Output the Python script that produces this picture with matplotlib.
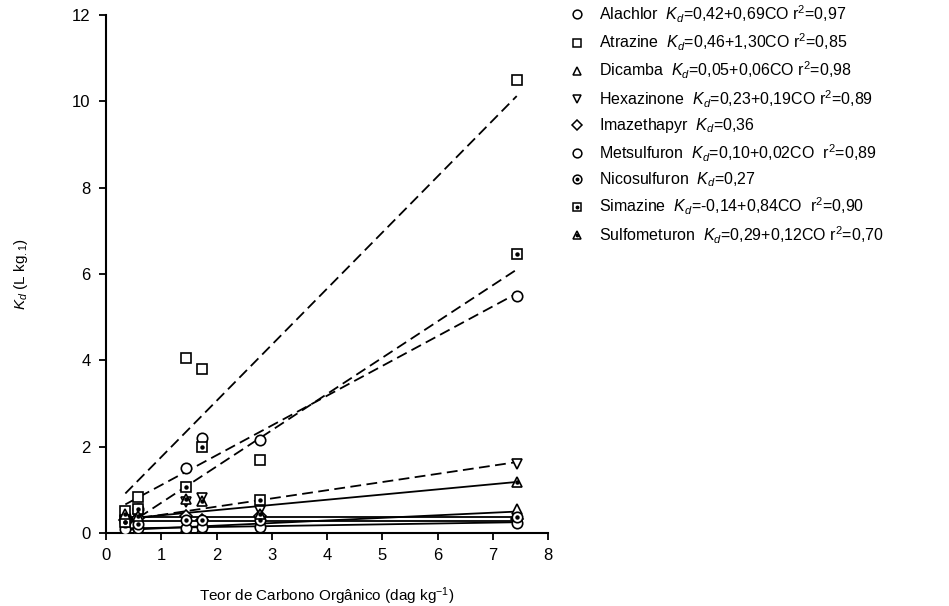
import matplotlib
matplotlib.use("Agg")
import matplotlib.pyplot as plt
from matplotlib.legend_handler import HandlerTuple
import numpy as np

plt.rcParams['font.family'] = ['Liberation Sans', 'DejaVu Sans']
plt.rcParams['mathtext.fontset'] = 'custom'
plt.rcParams['mathtext.rm'] = 'Liberation Sans'
plt.rcParams['mathtext.it'] = 'Liberation Sans:italic'

# organic carbon of the soils (dag/kg)
co = [0.35, 0.57, 1.45, 1.74, 2.78, 7.43]

names = ["Alachlor", "Atrazine", "Dicamba", "Hexazinone", "Imazethapyr",
         "Metsulfuron", "Nicosulfuron", "Simazine", "Sulfometuron"]

# Kd values
alachlor = [0.40, 0.55, 1.50, 2.20, 2.15, 5.50]
atrazine = [0.50, 0.83, 4.05, 3.80, 1.70, 10.50]
dicamba = [0.08, 0.10, 0.15, 0.12, 0.25, 0.55]
hexazinone = [0.30, 0.35, 0.72, 0.80, 0.50, 1.60]
imazethapyr = [0.30, 0.35, 0.40, 0.30, 0.40, 0.32]
metsulfuron = [0.10, 0.12, 0.12, 0.15, 0.15, 0.23]
nicosulfuron = [0.25, 0.20, 0.30, 0.30, 0.30, 0.37]
simazine = [0.25, 0.55, 1.07, 2.00, 0.76, 6.45]
sulfometuron = [0.45, 0.40, 0.78, 0.75, 0.45, 1.18]

# fitted lines from the legend (intercept, slope)
intercept = [0.42, 0.46, 0.05, 0.23, 0.36, 0.10, 0.27, -0.14, 0.29]
slope = [0.69, 1.30, 0.06, 0.19, 0.0, 0.02, 0.0, 0.84, 0.12]
fit_text = ["=0,42+0,69CO r$^2$=0,97", "=0,46+1,30CO r$^2$=0,85",
            "=0,05+0,06CO r$^2$=0,98", "=0,23+0,19CO r$^2$=0,89",
            "=0,36", "=0,10+0,02CO  r$^2$=0,89", "=0,27",
            "=-0,14+0,84CO  r$^2$=0,90", "=0,29+0,12CO r$^2$=0,70"]

series = [alachlor, atrazine, dicamba, hexazinone, imazethapyr,
          metsulfuron, nicosulfuron, simazine, sulfometuron]
markers = ['o', 's', '^', 'v', 'D', 'o', 'o', 's', '^']
dotted = [False, False, False, False, False, False, True, True, True]
lstyle = ['--', '--', '-', '--', '-', '-', '-', '--', '-']
msize = [7.5, 7.5, 7.5, 7.5, 6, 7.5, 7.5, 7.5, 7.5]

fig = plt.figure(figsize=(9.49, 6.06), dpi=100)
ax = fig.add_axes([0.1117, 0.1205, 0.466, 0.855])

xl = np.array([co[0], co[-1]])
handles = []
for i, y in enumerate(series):
    ax.plot(xl, intercept[i] + slope[i] * xl, color='black', lw=1.3,
            ls=lstyle[i], dashes=(6, 3) if lstyle[i] == '--' else (None, None), zorder=2)
    ax.plot(co, y, ls='none', marker=markers[i], ms=msize[i], mfc='white',
            mec='black', mew=1.2, zorder=3)
    if dotted[i]:
        ax.plot(co, y, ls='none', marker='o', ms=2.2, color='black', zorder=4)
    # smaller copies for the legend
    h = plt.Line2D([], [], ls='none', marker=markers[i], ms=msize[i] - 1.2,
                   mfc='white', mec='black', mew=1.1)
    if dotted[i]:
        d = plt.Line2D([], [], ls='none', marker='o', ms=1.8, color='black')
        handles.append((h, d))
    else:
        handles.append(h)

labels = [n + "  $K_d$" + t for n, t in zip(names, fit_text)]
leg = ax.legend(handles, labels, loc='upper left', bbox_to_anchor=(1.02, 1.05),
                frameon=False, fontsize=11.5, labelspacing=0.43, handlelength=0.7,
                handletextpad=1.0,
                handler_map={tuple: HandlerTuple(ndivide=1, pad=0)})

ax.set_xlim(0, 8)
ax.set_ylim(0, 12)
ax.set_xticks(range(0, 9))
ax.set_yticks(range(0, 13, 2))
ax.spines['top'].set_visible(False)
ax.spines['right'].set_visible(False)
ax.spines['left'].set_linewidth(1.5)
ax.spines['bottom'].set_linewidth(1.5)
ax.tick_params(direction='out', length=5, width=1.3, labelsize=12, pad=6)

ax.set_xlabel("Teor de Carbono Orgânico (dag kg$^{-1}$)", fontsize=11, labelpad=16)
ax.set_ylabel("$K_d$ (L kg$_{.1}$)", fontsize=11, labelpad=30)

fig.savefig("out.png", dpi=100)
